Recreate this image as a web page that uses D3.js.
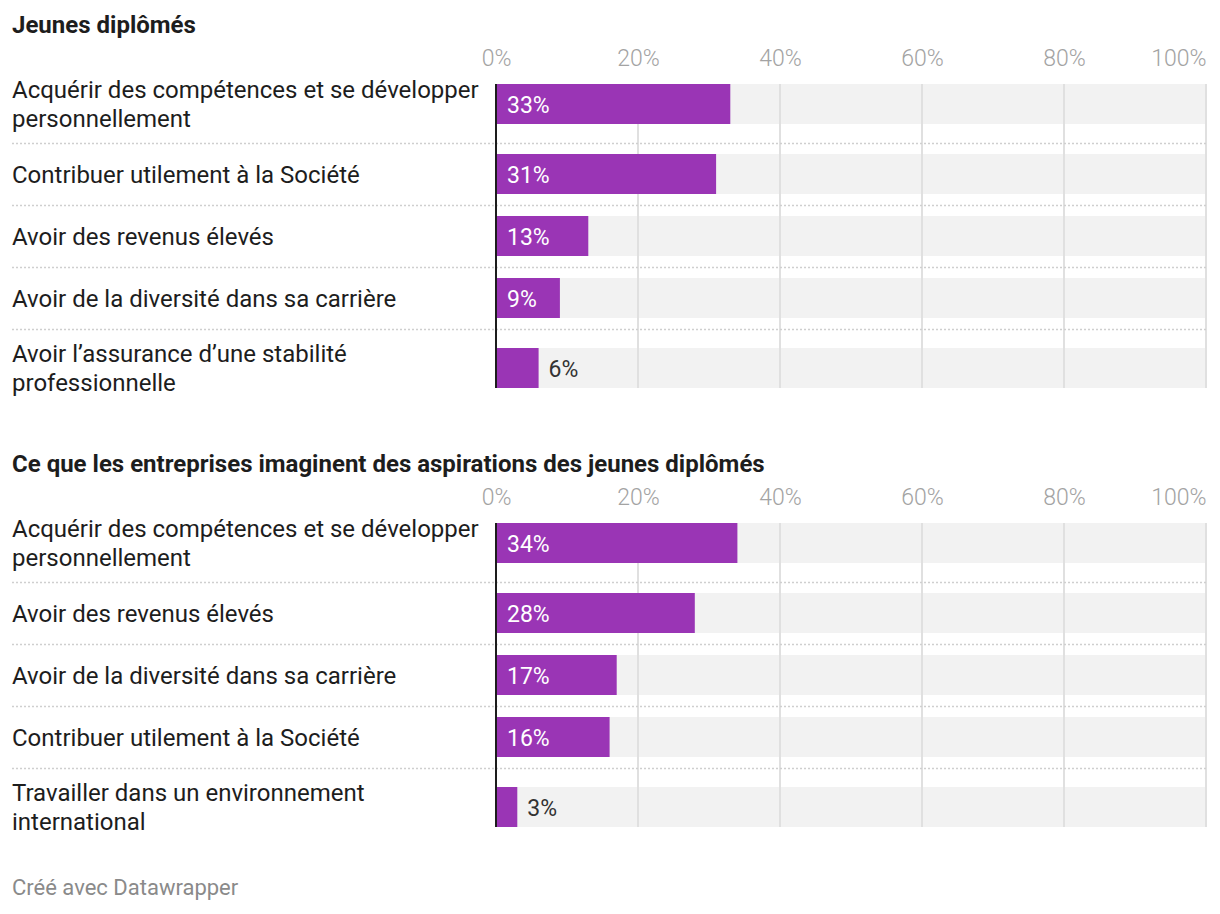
<!DOCTYPE html>
<html><head><meta charset="utf-8">
<script src="https://cdn.jsdelivr.net/npm/d3@7"></script>
<style>
body{margin:0;background:#fff;font-family:Roboto,"Noto Sans",sans-serif;}
</style></head>
<body><svg id="c" width="1220" height="914"></svg>
<script>
const title1 = "Jeunes diplômés";
const categories1 = [
  ["Acquérir des compétences et se développer","personnellement"],
  ["Contribuer utilement à la Société"],
  ["Avoir des revenus élevés"],
  ["Avoir de la diversité dans sa carrière"],
  ["Avoir l’assurance d’une stabilité","professionnelle"]
];
const values1 = [33, 31, 13, 9, 6];

const title2 = "Ce que les entreprises imaginent des aspirations des jeunes diplômés";
const categories2 = [
  ["Acquérir des compétences et se développer","personnellement"],
  ["Avoir des revenus élevés"],
  ["Avoir de la diversité dans sa carrière"],
  ["Contribuer utilement à la Société"],
  ["Travailler dans un environnement","international"]
];
const values2 = [34, 28, 17, 16, 3];

const tickValues = [0, 20, 40, 60, 80, 100];
const footer = "Créé avec Datawrapper";

const svg = d3.select("#c");
const x = d3.scaleLinear().domain([0, 100]).range([496, 1206]);
const purple = "#9a35b5";

function drawChart(top, title, cats, vals) {
  const g = svg.append("g").attr("transform", `translate(0,${top})`);
  g.append("text").attr("x", 12).attr("y", 33).text(title)
    .attr("font-size", 24).attr("font-weight", 700).attr("fill", "#1d1d1d");

  // ticks
  const axis = d3.axisTop(x).tickValues(tickValues).tickFormat(d => d + "%").tickSize(0);
  const ax = g.append("g").attr("transform", "translate(0,69)").call(axis);
  ax.select(".domain").remove();
  ax.selectAll("text").attr("font-size", 23).attr("fill", "#a3a3a3")
    .attr("font-family", "Roboto, sans-serif").attr("font-weight", 300).attr("dy", 0)
    .attr("text-anchor", (d, i) => i === tickValues.length - 1 ? "end" : "middle");

  // row layout
  const heights = cats.map(c => c.length > 1 ? 78 : 62);
  const starts = [];
  let acc = 65;
  heights.forEach(h => { starts.push(acc); acc += h; });
  const barH = 40;
  const barY = (i) => starts[i] + heights[i] / 2 - barH / 2;

  // background bars
  g.selectAll(".bg").data(vals).join("rect")
    .attr("x", x(0)).attr("width", x(100) - x(0))
    .attr("y", (d, i) => barY(i)).attr("height", barH).attr("fill", "#f2f2f2");

  // gridlines
  const yTop = barY(0), yBot = barY(vals.length - 1) + barH;
  g.selectAll(".grid").data(tickValues.slice(1)).join("line")
    .attr("x1", d => x(d)).attr("x2", d => x(d))
    .attr("y1", yTop).attr("y2", yBot)
    .attr("stroke", "#e0e0e0").attr("stroke-width", 2);

  // separators
  g.selectAll(".sep").data(starts.slice(1)).join("line")
    .attr("x1", 12).attr("x2", 1206)
    .attr("y1", d => d + 0.5).attr("y2", d => d + 0.5)
    .attr("stroke", "#cfcfcf").attr("stroke-width", 1.5).attr("stroke-dasharray", "2,2");

  // bars
  g.selectAll(".bar").data(vals).join("rect")
    .attr("x", x(0)).attr("width", d => x(d) - x(0))
    .attr("y", (d, i) => barY(i)).attr("height", barH).attr("fill", purple);

  // axis line
  g.append("line").attr("x1", x(0)).attr("x2", x(0))
    .attr("y1", yTop).attr("y2", yBot).attr("stroke", "#1d1d1d").attr("stroke-width", 2);

  // value labels
  g.selectAll(".val").data(vals).join("text")
    .attr("x", d => d >= 8 ? x(0) + 11 : x(d) + 10)
    .attr("y", (d, i) => barY(i) + barH / 2 + 8.5)
    .attr("font-size", 23)
    .attr("fill", d => d >= 8 ? "#ffffff" : "#333333")
    .text(d => d + "%");

  // category labels
  cats.forEach((lines, i) => {
    const cy = starts[i] + heights[i] / 2;
    const lh = 28.5;
    const y0 = cy - (lines.length - 1) * lh / 2 + 8.5;
    const t = g.append("text").attr("x", 12).attr("font-size", 24).attr("fill", "#1d1d1d");
    lines.forEach((l, j) => t.append("tspan").attr("x", 12).attr("y", y0 + j * lh).text(l));
  });
}

drawChart(0, title1, categories1, values1);
drawChart(439, title2, categories2, values2);

svg.append("text").attr("x", 12).attr("y", 895).attr("font-size", 22)
  .attr("fill", "#8a8a8a").text(footer);
</script>
</body></html>
